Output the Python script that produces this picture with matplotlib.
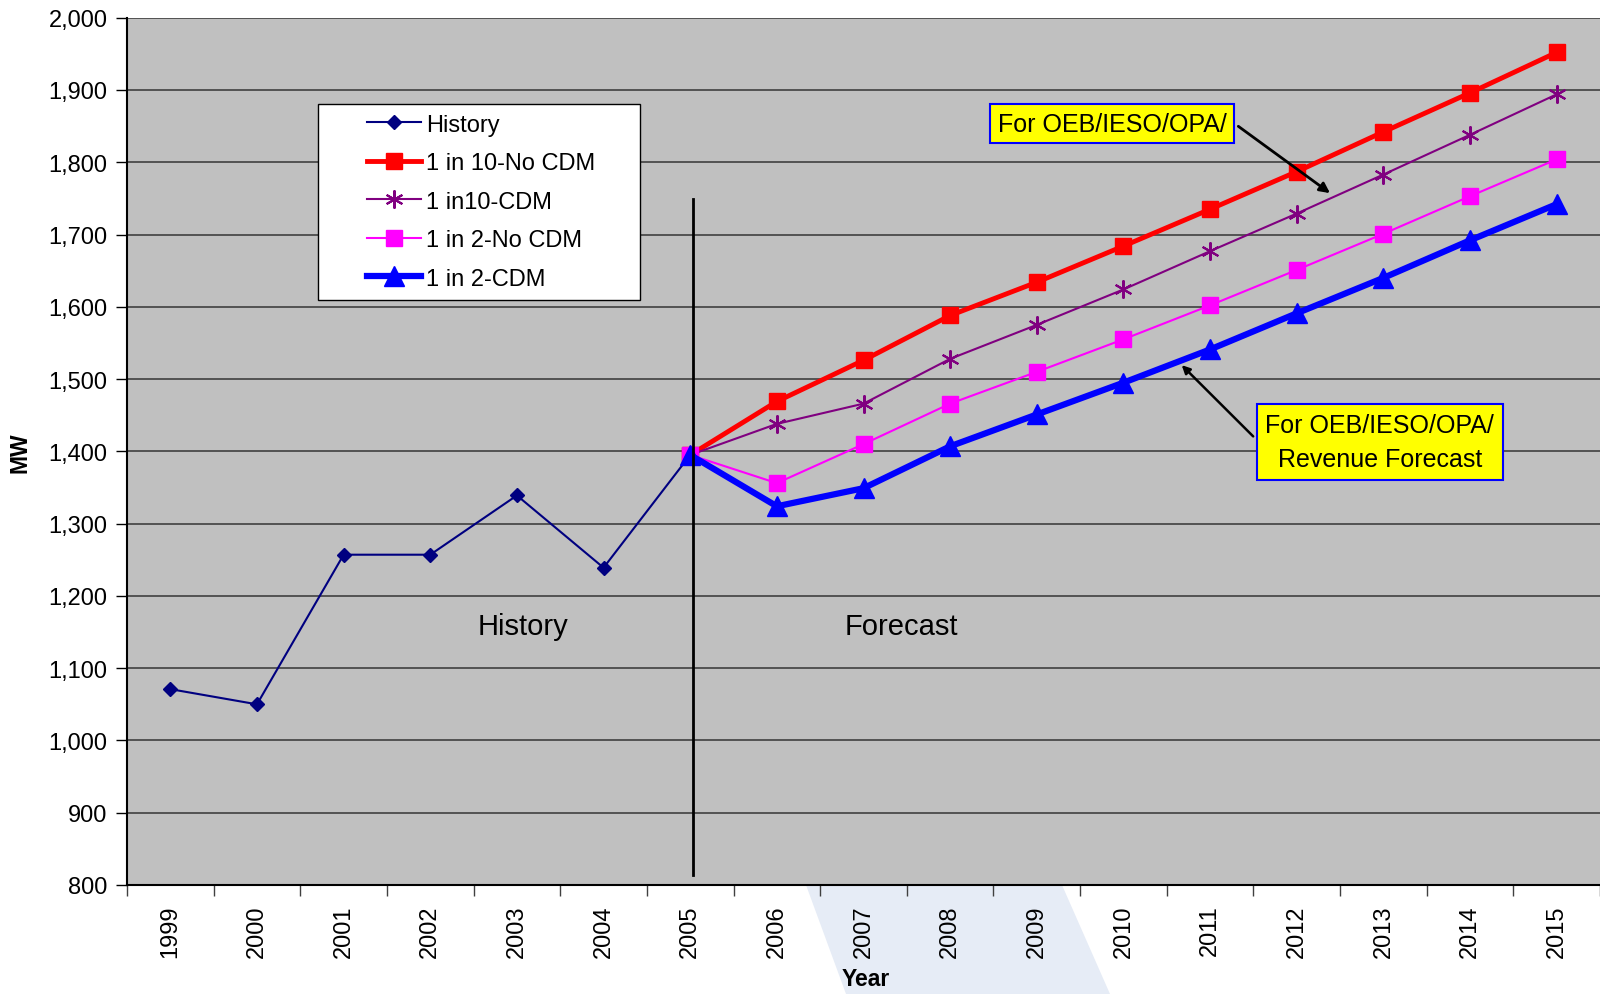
import matplotlib.pyplot as plt
import matplotlib.ticker as mticker
from matplotlib.patches import Rectangle, Polygon

plt.rcParams["font.family"] = ["Liberation Sans", "DejaVu Sans"]
plt.rcParams["font.size"] = 17

years = [str(y) for y in range(1999, 2016)]
history = [1071, 1050, 1257, 1257, 1339, 1239, 1395]
no_cdm_10 = [1395, 1469, 1526, 1588, 1634, 1684, 1735, 1787, 1842, 1896, 1952]
cdm_10 = [1395, 1438, 1466, 1528, 1575, 1624, 1677, 1729, 1783, 1838, 1894]
no_cdm_2 = [1395, 1356, 1410, 1466, 1510, 1555, 1602, 1651, 1701, 1753, 1804]
cdm_2 = [1395, 1324, 1349, 1407, 1451, 1495, 1541, 1591, 1640, 1692, 1742]

x_hist = list(range(len(history)))
x_fc = list(range(6, 6 + len(no_cdm_10)))

fig = plt.figure(figsize=(16, 9.95), dpi=100)

# faint background shape under the x axis
fig.patches.append(Polygon([(806 / 1600, 1 - 886 / 995), (1062 / 1600, 1 - 886 / 995),
                            (1110 / 1600, 0), (846 / 1600, 0)],
                           closed=True, transform=fig.transFigure,
                           facecolor="#E6ECF6", edgecolor="none", zorder=-1))

ax = fig.add_axes([127 / 1600, 1 - 886 / 995, 1 - 127 / 1600, (886 - 18.7) / 995])
ax.set_facecolor("#C0C0C0")

ax.plot(x_hist, history, color="#000080", lw=1.5, marker="D", ms=7, label="History", zorder=3)
ax.plot(x_fc, no_cdm_10, color="#FF0000", lw=3.5, marker="s", ms=11, label="1 in 10-No CDM", zorder=3)
ax.plot(x_fc, cdm_10, color="#800080", lw=1.5, marker=(6, 2, 0), ms=13, mew=1.5,
        label="1 in10-CDM", zorder=3)
ax.plot(x_fc, no_cdm_2, color="#FF00FF", lw=1.5, marker="s", ms=11, label="1 in 2-No CDM", zorder=3)
ax.plot(x_fc, cdm_2, color="#0000FF", lw=4.5, marker="^", ms=14, label="1 in 2-CDM", zorder=3)

# history / forecast split
ax.plot([6.03, 6.03], [814, 1749], color="black", lw=2, zorder=3)
ax.text(4.07, 1159, "History", fontsize=21, ha="center", va="center")
ax.text(8.44, 1159, "Forecast", fontsize=21, ha="center", va="center")

ax.text(10.87, 1853, "For OEB/IESO/OPA/", fontsize=18, ha="center", va="center",
        bbox=dict(boxstyle="square,pad=0.3", facecolor="#FFFF00", edgecolor="#0000FF", lw=1.5),
        zorder=6)
ax.annotate("", xy=(13.41, 1755), xytext=(12.30, 1852),
            arrowprops=dict(arrowstyle="-|>", color="black", lw=2, mutation_scale=15), zorder=6)
ax.text(13.96, 1413, "For OEB/IESO/OPA/\nRevenue Forecast", fontsize=18, ha="center",
        va="center", linespacing=1.55,
        bbox=dict(boxstyle="square,pad=0.35", facecolor="#FFFF00", edgecolor="#0000FF", lw=1.5),
        zorder=6)
ax.annotate("", xy=(11.65, 1522), xytext=(12.52, 1418),
            arrowprops=dict(arrowstyle="-|>", color="black", lw=1.8, mutation_scale=12), zorder=6)

ax.set_xlim(-0.5, 16.5)
ax.set_ylim(800, 2000)
ax.set_yticks(range(800, 2001, 100))
ax.yaxis.set_major_formatter(mticker.FuncFormatter(lambda v, p: f"{int(v):,}"))
ax.set_xticks(range(len(years)))
ax.set_xticklabels(years, rotation=90)
ax.set_xticks([i + 0.5 for i in range(-1, len(years))], minor=True)
ax.tick_params(axis="x", which="major", length=0, pad=14)
ax.tick_params(axis="x", which="minor", length=8, width=1, color="#404040")
ax.tick_params(axis="y", length=8, width=1, pad=6)

ax.grid(axis="y", color="#404040", lw=1.2, zorder=1)
ax.set_axisbelow(True)
for s in ["top", "right"]:
    ax.spines[s].set_visible(False)
ax.spines["left"].set_linewidth(1.5)
ax.spines["bottom"].set_linewidth(1.5)

ax.set_ylabel("MW", fontsize=16.5, fontweight="bold", labelpad=12)
fig.text(866 / 1600, 1 - 980 / 995, "Year", fontsize=16.5, fontweight="bold",
         ha="center", va="center")

# legend frame drawn by hand, content inside
ax.add_patch(Rectangle((0.130, 0.675), 0.218, 0.225, transform=ax.transAxes,
                       facecolor="white", edgecolor="black", lw=1, zorder=4))
leg = ax.legend(loc="upper left", bbox_to_anchor=(0.155, 0.903), frameon=False,
                borderpad=0, handlelength=2.3, handletextpad=0.2, labelspacing=0.7,
                fontsize=17)
leg.set_zorder(5)

fig.savefig("out.png", dpi=100)
